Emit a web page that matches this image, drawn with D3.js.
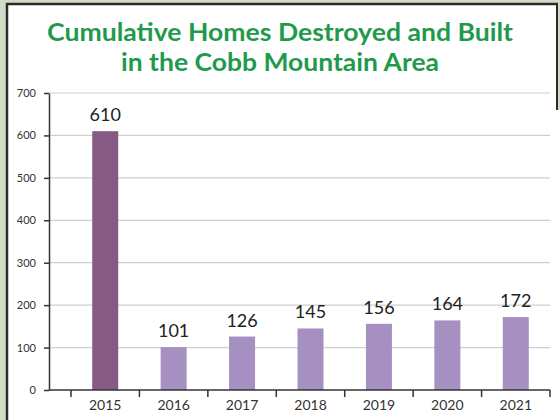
<!DOCTYPE html>
<meta charset="utf-8">
<head>
<script src="https://d3js.org/d3.v7.min.js"></script>
<style>
  body { margin: 0; background: #d2dbc8; }
  svg { display: block; }
  .grid line { stroke: #cfcfcf; stroke-width: 1.2; }
  .yaxis text, .xaxis text { fill: #333; font-family: Lato, "DejaVu Sans", sans-serif; }
  .yaxis path, .yaxis line { stroke: #333; stroke-width: 1.5; }
  .val { font-family: Lato, "DejaVu Sans", sans-serif; font-size: 18px; fill: #222; }
</style>
</head>
<body>
<svg width="560" height="420"></svg>
<script>
var years = ["2015", "2016", "2017", "2018", "2019", "2020", "2021"];
var homes = [610, 101, 126, 145, 156, 164, 172];
var yTicks = [0, 100, 200, 300, 400, 500, 600, 700];
var titleLines = ["Cumulative Homes Destroyed and Built", "in the Cobb Mountain Area"];

var data = years.map(function(y, i) { return {year: y, value: homes[i]}; });

var svg = d3.select("svg");

// photo frame: white sheet with dark edge on the grey-green board
svg.append("rect").attr("x", 0).attr("y", 0).attr("width", 560).attr("height", 420).attr("fill", "#d2dbc8");
svg.append("rect").attr("x", 7).attr("y", 4).attr("width", 560).attr("height", 420)
    .attr("fill", "#fff").attr("stroke", "#2b2b2b").attr("stroke-width", 2.5);
svg.append("line").attr("x1", 557).attr("x2", 557).attr("y1", 4).attr("y2", 110)
    .attr("stroke", "#2b2b2b").attr("stroke-width", 2);
svg.append("rect").attr("x", 558).attr("y", 0).attr("width", 2).attr("height", 110).attr("fill", "#d2dbc8");

// title
svg.selectAll(".title")
    .data(titleLines)
    .enter().append("text")
    .attr("class", "title")
    .attr("x", 280)
    .attr("y", function(d, i) { return 41 + i * 30; })
    .attr("text-anchor", "middle")
    .attr("font-family", "Lato, 'DejaVu Sans', sans-serif")
    .attr("font-weight", "bold")
    .attr("font-size", "24px")
    .attr("fill", "#1f9a4c")
    .attr("textLength", function(d, i) { return i === 0 ? 466 : 318; })
    .attr("lengthAdjust", "spacingAndGlyphs")
    .text(function(d) { return d; });

var plotLeft = 49, plotBottom = 390, plotTop = 93, plotRight = 550;

var x = d3.scaleBand().domain(years).range([71, plotRight]).paddingInner(0.62).paddingOuter(0.31);
var y = d3.scaleLinear().domain([0, 700]).range([plotBottom, plotTop]);

// gridlines
svg.append("g").attr("class", "grid")
    .selectAll("line")
    .data(yTicks.slice(1))
    .enter().append("line")
    .attr("x1", plotLeft).attr("x2", plotRight)
    .attr("y1", function(d) { return y(d); })
    .attr("y2", function(d) { return y(d); });

// y axis
var yAxis = svg.append("g").attr("class", "yaxis")
    .attr("transform", "translate(" + plotLeft + ",0)")
    .call(d3.axisLeft(y).tickValues(yTicks).tickSize(5).tickSizeOuter(0).tickPadding(8));
yAxis.selectAll("text").attr("font-size", "11px");

// bars
svg.selectAll(".bar")
    .data(data)
    .enter().append("rect")
    .attr("class", "bar")
    .attr("x", function(d) { return x(d.year); })
    .attr("y", function(d) { return y(d.value); })
    .attr("width", x.bandwidth())
    .attr("height", function(d) { return plotBottom - y(d.value); })
    .attr("fill", function(d, i) { return i === 0 ? "#875a85" : "#a690c2"; });

svg.selectAll(".val")
    .data(data)
    .enter().append("text")
    .attr("class", "val")
    .attr("x", function(d) { return x(d.year) + x.bandwidth() / 2; })
    .attr("y", function(d) { return y(d.value) - 10; })
    .attr("text-anchor", "middle")
    .text(function(d) { return d.value; });

// x axis: labels at centres, ticks at category edges
var xAxis = svg.append("g").attr("class", "xaxis")
    .attr("transform", "translate(0," + plotBottom + ")")
    .call(d3.axisBottom(x).tickSize(0).tickPadding(10));
xAxis.select(".domain").remove();
xAxis.selectAll("text").attr("font-size", "14px");

var step = x.step();
var edges = [x(years[0]) + x.bandwidth() / 2 - step / 2].concat(years.map(function(d) {
    return x(d) + x.bandwidth() / 2 + step / 2;
}));
xAxis.append("line")
    .attr("x1", plotLeft).attr("x2", plotRight).attr("y1", 0).attr("y2", 0)
    .attr("stroke", "#333").attr("stroke-width", 1.5);
xAxis.selectAll(".edge")
    .data(edges)
    .enter().append("line")
    .attr("class", "edge")
    .attr("x1", function(d) { return d; }).attr("x2", function(d) { return d; })
    .attr("y1", 0).attr("y2", 7)
    .attr("stroke", "#333").attr("stroke-width", 1.5);
</script>
</body>
